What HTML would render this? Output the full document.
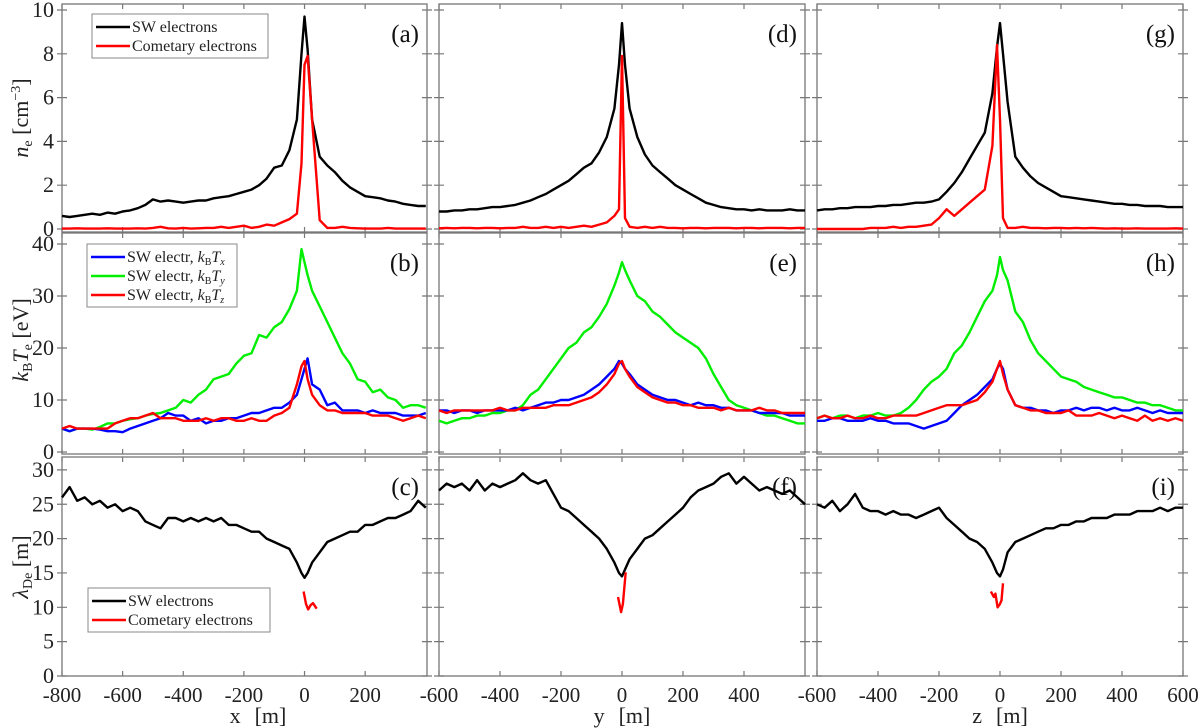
<!DOCTYPE html>
<html><head><meta charset="utf-8"><style>
html,body{margin:0;padding:0;background:#fff;}
svg{display:block;font-family:"Liberation Serif",serif;}
</style></head><body>
<svg id="fig" width="1200" height="728" viewBox="0 0 1200 728" xmlns="http://www.w3.org/2000/svg"></svg>
<script>
// ---- data ----
const gridX1 = [-800,-775,-750,-725,-700,-675,-650,-625,-600,-575,-550,-525,-500,-475,-450,-425,-400,-375,-350,-325,-300,-275,-250,-225,-200,-175,-150,-125,-100,-75,-50,-25,-10,0,10,25,50,75,100,125,150,175,200,225,250,275,300,325,350,375,400];
const gridX2 = [-600,-575,-550,-525,-500,-475,-450,-425,-400,-375,-350,-325,-300,-275,-250,-225,-200,-175,-150,-125,-100,-75,-50,-25,-10,0,10,25,50,75,100,125,150,175,200,225,250,275,300,325,350,375,400,425,450,475,500,525,550,575,600];

const aSW = [0.6,0.55,0.6,0.65,0.7,0.65,0.75,0.7,0.8,0.85,0.95,1.1,1.35,1.25,1.3,1.25,1.2,1.25,1.3,1.3,1.4,1.45,1.5,1.6,1.7,1.8,2.0,2.3,2.8,2.9,3.6,5.0,8.0,9.7,8.2,5.0,3.3,2.9,2.6,2.2,1.9,1.7,1.5,1.45,1.4,1.3,1.25,1.15,1.1,1.05,1.05];
const aCom = [0.02,0.02,0.03,0.02,0.02,0.02,0.03,0.02,0.02,0.02,0.03,0.02,0.05,0.1,0.03,0.02,0.05,0.02,0.03,0.05,0.05,0.1,0.05,0.1,0.15,0.05,0.1,0.2,0.15,0.3,0.45,0.7,3.0,7.5,7.9,5.0,0.4,0.05,0.05,0.1,0.05,0.03,0.02,0.02,0.02,0.05,0.02,0.02,0.02,0.02,0.02];
const bTy = [4.5,4,4.5,4.5,4.3,4.8,5.5,5.5,6,6.3,6.5,7,7.3,7.5,8,8.5,10,9.5,11,12,14,14.5,15,17,18.5,19,22.5,22,24,25,27.5,31,39,36.5,34,31,28,25,22,19,17,14,13.5,11.5,12,10.5,10,8.5,9,9,8.5];
const bTx = [4.5,4,4.5,4.5,4.5,4.3,4,4,3.8,4.5,5,5.5,6,6.5,7.5,7,7,6,6.5,5.5,6,6,6.5,6.5,7,7.5,7.5,8,8.5,8.5,9.5,11,14,16,18,13,12,9,9.5,8,8,8,7.5,8,7.5,7.5,7.5,7,7,7,7.5];
const bTz = [4.5,5,4.5,4.5,4.5,4.5,4.5,5.5,6,6.5,6.5,7,7.5,6.5,6.5,6.5,6,6,6,6.5,6,6.5,6.5,6,6,6.5,6,6,7,7.5,8.5,13,16.5,17.5,14,11,9,8,8,7.5,7.5,7.5,7.5,7,7,7,6.5,6,6.5,7,6.5];
const cSW = [26,27.5,25.5,26,25,25.5,24.5,25,24,24.5,24,22.5,22,21.5,23,23,22.5,23,22.5,23,22.5,23,22,22,21.5,21,21,20,19.5,19,18.5,16.5,15,14.3,15,16.5,18,19.5,20,20.5,21,21,22,22,22.5,23,23,23.5,24,25.5,24.5];
const cComX = [-3,5,12,20,28,40];
const cCom = [12.3,10.5,9.7,10.3,10.6,9.8];

const dSW = [0.8,0.8,0.85,0.85,0.9,0.9,0.95,1.0,1.0,1.05,1.1,1.2,1.3,1.45,1.6,1.8,2.0,2.2,2.5,2.8,3.0,3.5,4.2,5.5,7.5,9.4,7.5,5.5,4.2,3.4,2.9,2.6,2.3,2.0,1.8,1.6,1.4,1.2,1.1,1.0,0.95,0.9,0.9,0.85,0.9,0.85,0.85,0.85,0.9,0.85,0.85];
const dCom = [0.03,0.05,0.03,0.05,0.05,0.03,0.05,0.05,0.03,0.05,0.05,0.1,0.05,0.05,0.1,0.05,0.1,0.05,0.1,0.15,0.1,0.2,0.3,0.6,0.9,7.9,0.5,0.1,0.05,0.1,0.05,0.1,0.05,0.05,0.03,0.05,0.05,0.03,0.05,0.05,0.05,0.03,0.05,0.05,0.03,0.05,0.05,0.05,0.03,0.05,0.05];
const eTy = [6,5.5,6,6.5,6.5,7,7,7.5,7.5,8,8,9,11,12,14,16,18,20,21,23,24,26,28.5,32,34.5,36.5,35,33,30,29,27,26,24.5,23,22,21,20,18,15,12.5,10,9,8.5,8,7.5,7,7,6.5,6,5.5,5.5];
const eTx = [8,8,7.5,8,8,7.5,8,8,8,8,8.5,8,8.5,9,9.5,9.5,10,10,10.5,11,12,13,14.5,16,17.5,17,16,15,13,12,11,10.5,10,10,9.5,9,9.5,9,9,8.5,8.5,8,8,8,7.5,7.5,7.5,7.5,7,7,7];
const eTz = [8,7.5,8,8,8,8,8,8,8.5,8,8,8.5,8.5,8.5,8.5,9,9,9,9.5,10,10.5,11.5,13,15,17,17.5,16,14.5,12.5,11.5,10.5,10,9.5,9.5,9,9,8.5,8.5,8.5,8,8.5,8,8,8,8.5,8,8,7.5,7.5,7.5,7.5];
const fSW = [27,28,27.5,28,27,28.5,27,28,27.5,28,28.5,29.5,28.5,28,28.5,26.5,24.5,24,23,22,21,20,18.5,16.5,15,14.5,15.5,17,18.5,20,20.5,21.5,22.5,23.5,24.5,26,27,27.5,28,29,29.5,28,29,28,27,27.5,27,26.5,27,26,25];
const fComX = [-13,-3,3,12];
const fCom = [11.5,9.3,10.5,15.1];

const gSW = [0.85,0.9,0.9,0.95,0.95,1.0,1.0,1.0,1.05,1.05,1.1,1.1,1.15,1.2,1.2,1.25,1.35,1.7,2.1,2.6,3.2,3.8,4.4,6.2,8.3,9.4,8.0,5.8,3.3,2.8,2.4,2.1,1.9,1.7,1.5,1.45,1.4,1.35,1.3,1.25,1.2,1.15,1.15,1.1,1.1,1.05,1.05,1.05,1.0,1.0,1.0];
const gCom = [0,0,0,0,0,0,0,0.05,0.05,0.05,0.1,0.05,0.1,0.1,0.15,0.2,0.5,0.9,0.6,0.9,1.2,1.5,1.8,3.8,8.4,5.0,0.5,0.05,0.05,0.1,0.05,0.05,0.03,0.05,0.05,0.03,0.05,0.03,0.05,0.03,0.02,0.03,0.02,0.02,0.03,0.02,0.02,0.02,0.02,0.03,0.02];
const hTy = [6.5,7,6.5,7,7,6.5,7,7,7.5,7,7,7.5,8.5,10,12,13.5,14.5,16,19,20.5,23,26,29,31,34,37.5,35,33,27,25,21.5,19,17.5,16,14.5,14,13.5,12.5,12,11.5,11,10.5,10.5,10,9.5,9.5,9,9,8.5,8,8];
const hTx = [6,6,6.5,6.5,6,6,6,6.5,6,6,5.5,5.5,5.5,5,4.5,5,5.5,6,7.5,9,10,11,12.5,14,16,17,16,12,9,8.5,8.5,8,8,7.5,8,8,8.5,8,8.5,8.5,8,8.5,8,8,8.5,8,7.5,8,7.5,7.5,7.5];
const hTz = [6.5,7,6.5,6.5,7,6.5,6.5,7,6.5,6.5,7,7,7,7,7.5,8,8.5,9,9,9,9.5,10,11.5,13.5,16,17.5,15,12,9,8.5,8,8,7.5,7.5,7.5,8,7,7,7,7.5,7,6.5,7,6.5,6,7,6,6.5,6,6.5,6];
const iSW = [25,24.5,25.5,24,25,26.5,24.5,24,24,23.5,24,23.5,23.5,23,23.5,24,24.5,23,22,21,20,19.5,18.5,16.5,15,14.5,15.5,18,19.5,20,20.5,21,21.5,21.5,22,22,22.5,22.5,23,23,23,23.5,23.5,23.5,24,24,24,24.5,24,24.5,24.5];
const iComX = [-30,-20,-15,-8,0,5,10];
const iCom = [12.3,11.5,12,10,10.5,11,13.5];

const rowTicks1 = [0,2,4,6,8,10];
const rowTicks2 = [0,10,20,30,40];
const rowTicks3 = [0,5,10,15,20,25,30];
const colTicks1 = [-800,-600,-400,-200,0,200];
const colTicks2 = [-600,-400,-200,0,200,400];
const colTicks3 = [-600,-400,-200,0,200,400,600];

// ---- layout ----
const NS = "http://www.w3.org/2000/svg";
const svg = document.getElementById('fig');
const cols = [
  {x0:62, x1:427, d0:-800, d1:404, ticks:colTicks1, lab:'x', tx:258},
  {x0:439, x1:805, d0:-600, d1:600, ticks:colTicks2, lab:'y', tx:622},
  {x0:817, x1:1183, d0:-600, d1:600, ticks:colTicks3, lab:'z', tx:1000}
];
const rows = [
  {top:4, bot:232, zero:229, pxu:21.9, ticks:rowTicks1},
  {top:233, bot:454, zero:452, pxu:5.2, ticks:rowTicks2},
  {top:457, bot:676, zero:676, pxu:6.87, ticks:rowTicks3}
];
function el(tag, attrs, parent){
  const e = document.createElementNS(NS, tag);
  for (const k in attrs) e.setAttribute(k, attrs[k]);
  (parent||svg).appendChild(e);
  return e;
}
function sx(c, v){ return c.x0 + (v - c.d0) / (c.d1 - c.d0) * (c.x1 - c.x0); }
function sy(r, v){ return r.zero - v * r.pxu; }

const panelLetters = [['a','b','c'],['d','e','f'],['g','h','i']];
for (let ci=0; ci<3; ci++){
  const c = cols[ci];
  for (let ri=0; ri<3; ri++){
    const r = rows[ri];
    const g = el('g', {});
    
    
    const box = el('rect', {x:c.x0, y:r.top, width:c.x1-c.x0, height:r.bot-r.top, fill:'none', stroke:'#777', 'stroke-width':1.3}, g);
    
    
    for (const t of r.ticks){
      const y = sy(r, t);
      const tl = el('path', {d:`M${c.x0-5},${y}H${c.x0+5}M${c.x1-5},${y}H${c.x1+5}`, stroke:'#777', 'stroke-width':1.2}, g);
      
      
      if (ci===0){
        const tx = el('text', {x:c.x0-8, y:y+7, 'text-anchor':'end', 'font-size':22, fill:'#222'}, g);
        tx.textContent = t;
        
        
      }
    }
    for (const t of c.ticks){
      const x = sx(c, t);
      const tl = el('path', {d:`M${x},${r.top}v5M${x},${r.bot}v-5`, stroke:'#777', 'stroke-width':1.2}, g);
      
      
      if (ri===2){
        const tx = el('text', {x:x, y:702, 'text-anchor':'middle', 'font-size':21, fill:'#222'}, g);
        tx.textContent = t;
        
        
      }
    }
    const pl = el('text', {x:c.x1-8, y:r.top+38, 'text-anchor':'end', 'font-size':25, fill:'#111'}, g);
    pl.textContent = '(' + panelLetters[ci][ri] + ')';
    
    
  }
  const xl = el('text', {x:c.tx, y:723, 'text-anchor':'middle', 'font-size':22, fill:'#222'});
  xl.innerHTML = c.lab + '<tspan dx="14">[m]</tspan>';
  
  
}

function line(ci, ri, xs, vs, color, name){
  const c = cols[ci], r = rows[ri];
  let d = '';
  for (let i=0; i<xs.length; i++){
    d += (i? 'L':'M') + sx(c, xs[i]).toFixed(1) + ',' + sy(r, vs[i]).toFixed(1);
  }
  const p = el('path', {d:d, fill:'none', stroke:color, 'stroke-width':2.4, 'stroke-linejoin':'round'});
  
  
}
line(0,0,gridX1,aSW,'#000','sw-density-x');
line(0,0,gridX1,aCom,'#f00','cometary-density-x');
line(0,1,gridX1,bTy,'#0e0','temp-ty-x');
line(0,1,gridX1,bTx,'#00f','temp-tx-x');
line(0,1,gridX1,bTz,'#f00','temp-tz-x');
line(0,2,gridX1,cSW,'#000','sw-debye-x');
line(0,2,cComX,cCom,'#f00','cometary-debye-x');
line(1,0,gridX2,dSW,'#000','sw-density-y');
line(1,0,gridX2,dCom,'#f00','cometary-density-y');
line(1,1,gridX2,eTy,'#0e0','temp-ty-y');
line(1,1,gridX2,eTx,'#00f','temp-tx-y');
line(1,1,gridX2,eTz,'#f00','temp-tz-y');
line(1,2,gridX2,fSW,'#000','sw-debye-y');
line(1,2,fComX,fCom,'#f00','cometary-debye-y');
line(2,0,gridX2,gSW,'#000','sw-density-z');
line(2,0,gridX2,gCom,'#f00','cometary-density-z');
line(2,1,gridX2,hTy,'#0e0','temp-ty-z');
line(2,1,gridX2,hTx,'#00f','temp-tx-z');
line(2,1,gridX2,hTz,'#f00','temp-tz-z');
line(2,2,gridX2,iSW,'#000','sw-debye-z');
line(2,2,iComX,iCom,'#f00','cometary-debye-z');

// legends
function legend(x, y, w, entries, name){
  const g = el('g', {});
  
  
  const h = entries.length * 19 + 6;
  el('rect', {x:x, y:y, width:w, height:h, fill:'#fff', stroke:'#888', 'stroke-width':1}, g);
  entries.forEach((e, i) => {
    const yy = y + 13 + i*19;
    el('line', {x1:x+4, x2:x+38, y1:yy, y2:yy, stroke:e[1], 'stroke-width':2.4}, g);
    const t = el('text', {x:x+40, y:yy+5, 'font-size':16, fill:'#222'}, g);
    t.innerHTML = e[0];
    
    
  });
}
legend(92, 14, 176, [['SW electrons','#000'],['Cometary electrons','#f00']], 'legend-density');
const tsub = (s) => 'SW electr, <tspan font-style="italic">k</tspan><tspan font-size="10" dy="3">B</tspan><tspan font-style="italic" dy="-3">T</tspan><tspan font-style="italic" font-size="10" dy="3">' + s + '</tspan>';
legend(87, 244, 150, [[tsub('x'),'#00f'],[tsub('y'),'#0e0'],[tsub('z'),'#f00']], 'legend-temperature');
legend(88, 588, 182, [['SW electrons','#000'],['Cometary electrons','#f00']], 'legend-debye');

// y-axis titles
function ytitle(cy, html, name){
  const t = el('text', {x:0, y:0, 'text-anchor':'middle', 'font-size':22, fill:'#222', transform:`translate(28,${cy}) rotate(-90)`});
  t.innerHTML = html;
  
  
}
ytitle(118, '<tspan font-style="italic">n</tspan><tspan font-size="14" dy="4">e</tspan><tspan dy="-4"> [cm</tspan><tspan font-size="14" dy="-8">−3</tspan><tspan dy="8">]</tspan>', 'y-axis-title-density');
ytitle(340, '<tspan font-style="italic">k</tspan><tspan font-size="14" dy="4">B</tspan><tspan font-style="italic" dy="-4">T</tspan><tspan font-size="14" dy="4">e</tspan><tspan dy="-4"> [eV]</tspan>', 'y-axis-title-temperature');
ytitle(567, '<tspan font-style="italic">λ</tspan><tspan font-size="14" dy="4">De</tspan><tspan dy="-4"> [m]</tspan>', 'y-axis-title-debye');
</script>
</body></html>
